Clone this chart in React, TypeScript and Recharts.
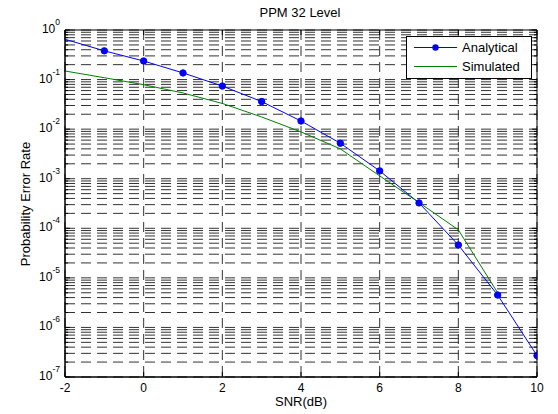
import React from 'react';
import { LineChart, Line, XAxis, YAxis, CartesianGrid, Legend, ReferenceArea } from 'recharts';

// SNR in dB
const snr = [-2, -1, 0, 1, 2, 3, 4, 5, 6, 7, 8, 9, 10];
// analytical PPM-32 error probability
const analytical = [0.65, 0.38, 0.237, 0.136, 0.074, 0.036, 0.0146, 0.0052, 0.00144, 3.25e-4, 4.6e-5, 4.5e-6, 2.7e-7];
// simulated curve, no sample at 10 dB
const simulated = [0.149, 0.109, 0.0788, 0.0537, 0.033, 0.0176, 0.0088, 0.004, 0.00114, 3.3e-4, 9.3e-5, 5e-6, null];

const xTicks = [-2, 0, 2, 4, 6, 8, 10];
const decades = [-7, -6, -5, -4, -3, -2, -1, 0];
const minorSteps = [2, 3, 4, 5, 6, 7, 8, 9];

const yTicks: number[] = [];
decades.forEach((e) => {
    yTicks.push(Math.pow(10, e));
    if (e < 0) minorSteps.forEach((m) => yTicks.push(m * Math.pow(10, e)));
});

const data = snr.map((s, i) => ({ snr: s, analytical: analytical[i], simulated: simulated[i] }));

const FONT = '"Liberation Sans", Arial, Helvetica, sans-serif';
const PL = 65, PR = 537, PT = 30, PB = 377;

const XTick = ({ x, payload }: any) => (
    <g>
        <line x1={x} x2={x} y1={PB} y2={PB - 5} stroke="#000" />
        <line x1={x} x2={x} y1={PT} y2={PT + 5} stroke="#000" />
        <text x={x} y={PB + 15} textAnchor="middle" fontSize={12} fontFamily={FONT} fill="#000">
            {payload.value}
        </text>
    </g>
);

const YTick = ({ y, payload }: any) => {
    const lg = Math.log10(payload.value);
    const e = Math.round(lg);
    const major = Math.abs(lg - e) < 1e-6;
    const len = major ? 5 : 3;
    return (
        <g>
            <line x1={PL} x2={PL + len} y1={y} y2={y} stroke="#000" />
            <line x1={PR} x2={PR - len} y1={y} y2={y} stroke="#000" />
            {major && (
                <text x={PL - 5} y={y + 3} textAnchor="end" fontSize={12} fontFamily={FONT} fill="#000">
                    <tspan>10</tspan>
                    <tspan dy={-8} fontSize={8.5}>{e}</tspan>
                </text>
            )}
        </g>
    );
};

const renderDot = (props: any) => {
    const { cx, cy, payload, index } = props;
    if (payload.snr === -2) return <g key={`d${index}`} />;
    return <circle key={`d${index}`} cx={cx} cy={cy} r={3.2} fill="#0000ff" stroke="#0000ff" />;
};

const LegendBox = () => (
    <svg width={127} height={44} style={{ display: 'block' }}>
        <rect x={0.5} y={0.5} width={125} height={42} fill="#fff" stroke="#000" />
        <line x1={8} x2={51} y1={11.5} y2={11.5} stroke="#0000ff" />
        <circle cx={29.5} cy={11.5} r={3.2} fill="#0000ff" />
        <text x={56} y={16} fontSize={13} fontFamily={FONT} fill="#000">Analytical</text>
        <line x1={8} x2={51} y1={30.5} y2={30.5} stroke="#008000" />
        <text x={56} y={35} fontSize={13} fontFamily={FONT} fill="#000">Simulated</text>
    </svg>
);

export default function App() {
    return (
        <div style={{ position: 'absolute', left: 0, top: 0, width: 558, height: 414, background: '#fff', fontFamily: FONT }}>
            <div style={{ position: 'absolute', left: 200, top: 5, width: 200, textAlign: 'center', fontSize: 13, lineHeight: '16px', color: '#000' }}>
                PPM 32 Level
            </div>
            <LineChart width={558} height={414} data={data} margin={{ top: PT, right: 558 - PR, bottom: 0, left: 0 }}>
                <CartesianGrid stroke="#333" strokeDasharray="10 6" />
                <XAxis
                    dataKey="snr"
                    type="number"
                    domain={[-2, 10]}
                    ticks={xTicks}
                    interval={0}
                    allowDataOverflow
                    height={414 - PB}
                    tickLine={false}
                    tick={<XTick />}
                    axisLine={{ stroke: '#000' }}
                    label={{ value: 'SNR(dB)', position: 'insideBottom', offset: 8, fontSize: 13, fontFamily: FONT, fill: '#000' }}
                />
                <YAxis
                    type="number"
                    scale="log"
                    domain={[1e-7, 1]}
                    ticks={yTicks}
                    interval={0}
                    allowDataOverflow
                    width={PL}
                    tickLine={false}
                    tick={<YTick />}
                    axisLine={{ stroke: '#000' }}
                    label={{
                        content: () => (
                            <text x={25} y={204} transform="rotate(-90 25 204)" textAnchor="middle" dominantBaseline="central" fontSize={13} fontFamily={FONT} fill="#000">
                                Probability Error Rate
                            </text>
                        ),
                    }}
                />
                <ReferenceArea x1={-2} x2={10} y1={1e-7} y2={1} fill="none" stroke="#000" strokeWidth={1} />
                <Line dataKey="analytical" stroke="#0000ff" strokeWidth={1} dot={renderDot} activeDot={false} isAnimationActive={false} />
                <Line dataKey="simulated" stroke="#008000" strokeWidth={1} dot={false} activeDot={false} isAnimationActive={false} />
                <Legend
                    layout="horizontal"
                    verticalAlign="middle"
                    align="center"
                    content={<LegendBox />}
                    wrapperStyle={{ top: 36, left: 406, width: 127, height: 44 }}
                />
            </LineChart>
        </div>
    );
}
